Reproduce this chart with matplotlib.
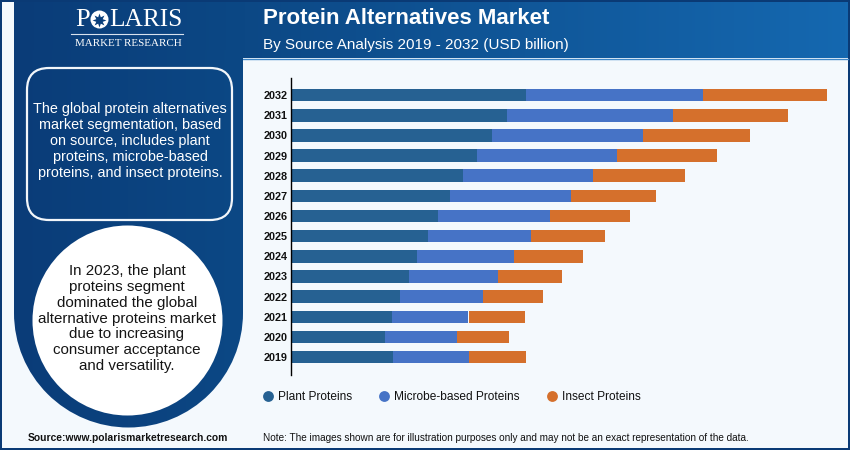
import numpy as np
import matplotlib
matplotlib.use('Agg')
import matplotlib.pyplot as plt
from matplotlib.colors import LinearSegmentedColormap
from matplotlib.lines import Line2D
from matplotlib.patches import Circle, FancyBboxPatch, PathPatch, Rectangle
from matplotlib.path import Path

plt.rcParams['font.family'] = ['Liberation Sans', 'DejaVu Sans']

# no value axis in the original so units are relative
years = [2019, 2020, 2021, 2022, 2023, 2024, 2025, 2026, 2027, 2028, 2029, 2030, 2031, 2032]
plant = [10.2, 9.4, 10.1, 10.9, 11.8, 12.6, 13.7, 14.7, 15.9, 17.2, 18.6, 20.1, 21.7, 23.5]
microbe = [7.7, 7.2, 7.7, 8.3, 8.9, 9.7, 10.3, 11.2, 12.1, 13.0, 14.0, 15.2, 16.5, 17.8]
insect = [5.6, 5.2, 5.6, 6.0, 6.4, 6.9, 7.4, 8.0, 8.5, 9.2, 10.0, 10.7, 11.5, 12.4]
series_names = ['Plant Proteins', 'Microbe-based Proteins', 'Insect Proteins']
series_colors = ['#266192', '#4673c6', '#d5702c']

left_text = 'The global protein alternatives\nmarket segmentation, based\non source, includes plant\nproteins, microbe-based\nproteins, and insect proteins.'
circle_text = 'In 2023, the plant\nproteins segment\ndominated the global\nalternative proteins market\ndue to increasing\nconsumer acceptance\nand versatility.'

PAGE = '#f4f9fd'
NAVY = '#0a3a75'

fig = plt.figure(figsize=(8.5, 4.5), dpi=100, facecolor=NAVY)

# background layer in pixel coordinates
bg = fig.add_axes([0, 0, 1, 1])
bg.axis('off')

bg.add_patch(Rectangle((2, 2), 846, 446, fc=PAGE, ec='none'))

# header gradient, runs on through the left panel
grad = np.linspace(0, 1, 256).reshape(1, -1)
header_cmap = LinearSegmentedColormap.from_list('header', [(0, '#0a3c78'), (0.275, '#0c4885'), (1, '#1568b0')])
bg.imshow(grad, extent=(14, 848, 58, 2), cmap=header_cmap, aspect='auto', zorder=1)
bg.plot([243, 848], [58.5, 58.5], color='#3f86c6', lw=1, zorder=2)

# left panel with round bottom
cx, cy, r = 128.5, 313, 114.5
arc = Path.arc(0, 180)
arc_pts = arc.vertices * r + np.array([cx, cy])
verts = [(14, 50)] + [tuple(p) for p in arc_pts[::-1]] + [(243, 50), (14, 50)]
codes = [Path.MOVETO] + [Path.LINETO if c == Path.MOVETO else c for c in arc.codes] + [Path.LINETO, Path.CLOSEPOLY]
panel = PathPatch(Path(verts, codes), fc='none', ec='none', zorder=2)
bg.add_patch(panel)
panel_cmap = LinearSegmentedColormap.from_list('panel', ['#0a3c78', '#0c4885'])
im = bg.imshow(grad, extent=(14, 243, 430, 50), cmap=panel_cmap, aspect='auto', zorder=2)
im.set_clip_path(panel)
bg.set_xlim(0, 850)
bg.set_ylim(450, 0)

bg.add_patch(FancyBboxPatch((49, 90), 161, 108, boxstyle='round,pad=22,rounding_size=22', fc='none', ec='#f2f6fa', lw=1.6, zorder=3))
bg.add_patch(Circle((127.5, 320.5), 95, fc='white', ec='none', zorder=3))

bg.text(130, 141, left_text, color='white', fontsize=10.4, ha='center', va='center', linespacing=1.2, zorder=4)
bg.text(127, 318.5, circle_text, color='#151515', fontsize=10.9, ha='center', va='center', linespacing=1.18, zorder=4)

# logo
serif = ['Liberation Serif', 'DejaVu Serif']
bg.text(75, 20.5, 'P', color='white', family=serif, fontsize=19, ha='left', va='center', zorder=4)
bg.add_patch(Circle((99.5, 19.5), 9, fc='white', ec='none', zorder=4))
bg.plot([99.5], [19.5], marker=(8, 1), ms=10, color='#0a3f7b', mew=0, zorder=5)
bg.text(109.5, 20.5, 'LARIS', color='white', family=serif, fontsize=18.3, ha='left', va='center', zorder=4)
bg.plot([71, 183], [34, 34], color='#d8e2ee', lw=0.8, zorder=4)
bg.text(128, 43.5, 'MARKET RESEARCH', color='white', family=serif, fontsize=7.9, ha='center', va='center', zorder=4)

# titles
bg.text(263, 18.5, 'Protein Alternatives Market', color='white', fontsize=16, fontweight='bold', ha='left', va='center', zorder=4)
bg.text(263, 44.5, 'By Source Analysis 2019 - 2032 (USD billion)', color='white', fontsize=10.95, ha='left', va='center', zorder=4)

# footer
bg.text(28, 438, 'Source:www.polarismarketresearch.com', color='#111111', fontsize=7.4, fontweight='bold', ha='left', va='center', zorder=4)
bg.text(263, 438, 'Note: The images shown are for illustration purposes only and may not be an exact representation of the data.', color='#111111', fontsize=7.2, ha='left', va='center', zorder=4)

# bar chart, 1 unit = 10 px
ax = fig.add_axes([290.5 / 850, (450 - 375) / 450, 555 / 850, 297 / 450])
ax.patch.set_alpha(0)
ax.set_xlim(0, 55.5)
ax.set_ylim(-0.89, 13.85)
y = np.arange(len(years))
left = np.zeros(len(years))
for name, values, color in zip(series_names, [plant, microbe, insect], series_colors):
    ax.barh(y, values, left=left, height=0.62, color=color, label=name)
    left = left + np.array(values)

ax.set_yticks(y)
ax.set_yticklabels(years, fontsize=7.8, fontweight='bold', color='#111111')
ax.tick_params(axis='y', length=0, pad=2)
ax.set_xticks([])
for side in ['top', 'right', 'bottom']:
    ax.spines[side].set_visible(False)
ax.spines['left'].set_linewidth(1)
ax.spines['left'].set_color('black')

handles = [Line2D([], [], ls='none', marker='o', ms=7.8, mew=0, color=c) for c in series_colors]
fig.legend(handles, series_names, loc='center left', bbox_to_anchor=(262 / 850, 1 - 397.5 / 450), ncol=3, frameon=False,
           fontsize=8.6, handlelength=1, handletextpad=0.33, columnspacing=2.2, borderpad=0, borderaxespad=0,
           labelcolor='#111111')

fig.savefig('out.png', dpi=100, facecolor=fig.get_facecolor())
